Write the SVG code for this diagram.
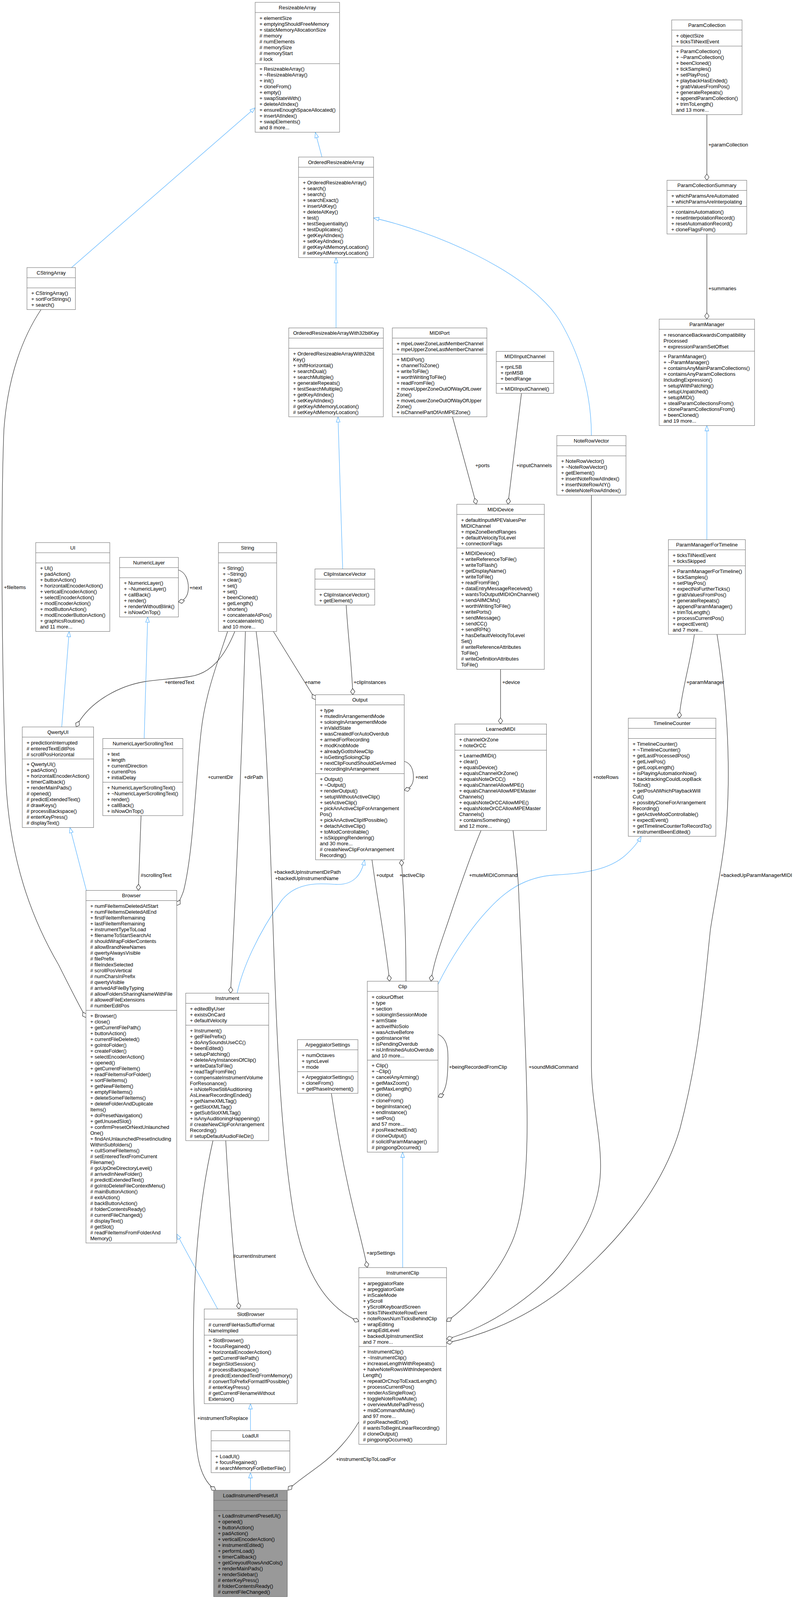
<svg xmlns="http://www.w3.org/2000/svg" width="2032" height="4198" viewBox="0 0 2032 4198">
<style>
.bx{fill:#fff;stroke:#666;stroke-width:1}
.gr{fill:#999;stroke:#666;stroke-width:1}
.sep{stroke:#666;stroke-width:1;fill:none}
text{font-family:"Liberation Sans",Arial,Helvetica,sans-serif;font-size:13px;fill:#000}
.ti{text-anchor:middle}
.inh{fill:none;stroke:#63b8ff;stroke-width:1.3;marker-end:url(#tri)}
.agg{fill:none;stroke:#404040;stroke-width:1.3;marker-end:url(#dia)}
</style>
<defs>
<marker id="tri" markerUnits="userSpaceOnUse" markerWidth="16" markerHeight="12" refX="13.5" refY="5" orient="auto" overflow="visible"><path d="M0,0.25 L13.5,5 L0,9.75 Z" fill="#fff" stroke="#63b8ff" stroke-width="1.3"/></marker>
<marker id="dia" markerUnits="userSpaceOnUse" markerWidth="18" markerHeight="12" refX="16" refY="5.5" orient="auto" overflow="visible"><path d="M0,5.5 L8,0 L16,5.5 L8,11 Z" fill="#fff" stroke="#404040" stroke-width="1.3"/></marker>
</defs>
<rect x="0" y="0" width="2032" height="4198" fill="#fff"/>

<g id="edges">
<path class="inh" d="M824,402 L807,339"/>
<path class="inh" d="M183,685 L653,276"/>
<path class="inh" d="M860,839.5 L860,659.5"/>
<path class="inh" d="M877,1456.5 L865,1067"/>
<path class="inh" d="M1513.5,1115 C1513.5,1000 1480,900 1432,820 C1350,690 1100,590 956,558"/>
<path class="inh" d="M1809,1381.5 L1809,1089.5"/>
<path class="inh" d="M158,1861 L177,1616.5"/>
<path class="inh" d="M369,1890.5 L378,1579.5"/>
<path class="inh" d="M221,2279.5 L179,2118.5"/>
<path class="inh" d="M607,2542.5 C620,2480 660,2390 720,2306 C760,2255 820,2262 860,2264 C905,2266 925,2240 933,2201"/>
<path class="inh" d="M1121,2520 C1150,2460 1200,2380 1253,2325 C1290,2285 1340,2245 1420,2240 C1500,2236 1560,2225 1600,2190 C1620,2172 1633,2156 1641,2141"/>
<path class="inh" d="M1030.5,3245 L1030.5,2949.5"/>
<path class="inh" d="M557,3351 L452.3,3159"/>
<path class="inh" d="M641,3662.5 L641,3593.5"/>
<path class="inh" d="M641,3815 L641,3770"/>

<path class="agg" d="M1809,293.5 L1809,461.5"/>
<path class="agg" d="M1809,599 L1809,817"/>
<path class="agg" d="M1158,1067 L1219,1291"/>
<path class="agg" d="M1334.5,1007 L1300,1291"/>
<path class="agg" d="M1281,1713.5 L1281,1853.5"/>
<path class="agg" d="M1777,1624 C1768,1690 1744,1770 1738,1838.5"/>
<path class="agg" d="M456.5,1459 C475,1465 482,1485 482,1504 C482,1523 475,1537 456.5,1541"/>
<path class="agg" d="M601,1616.5 C575,1680 540,1725 485,1732 C440,1738 400,1740 370,1745 C300,1757 225,1800 195,1861"/>
<path class="agg" d="M582.5,1616.5 C555,1700 525,1780 515,1870 C500,2000 495,2180 470,2280 C465,2295 460,2306 452.3,2318"/>
<path class="agg" d="M628,1616.5 C620,1900 605,2250 590,2542.5"/>
<path class="agg" d="M655.5,1616.5 C680,1800 690,2100 700,2410 C708,2650 718,2900 750,3100 C775,3250 830,3345 918.3,3383"/>
<path class="agg" d="M699.7,1616.5 L807.5,1791"/>
<path class="agg" d="M886,1549 C890,1620 900,1700 903,1778.5"/>
<path class="agg" d="M1034.5,1949 C1055,1955 1058,1975 1058,1990 C1058,2005 1052,2018 1034.5,2023"/>
<path class="agg" d="M952,2201 C965,2300 985,2400 997,2512"/>
<path class="agg" d="M1039,2512 C1039,2400 1035,2300 1027,2201"/>
<path class="agg" d="M1231,2126 C1200,2200 1170,2290 1150,2350 C1130,2410 1110,2460 1103,2512"/>
<path class="agg" d="M1313,2126 C1322,2200 1327,2250 1328,2300 C1335,2450 1345,2650 1348,2800 C1352,2950 1345,3100 1310,3180 C1275,3260 1210,3335 1142.7,3383"/>
<path class="agg" d="M1513.5,1267.5 L1513.5,2727 C1513.5,2820 1537,2900 1537,2986 C1537,3080 1500,3150 1440,3230 C1380,3310 1250,3400 1142.7,3428"/>
<path class="agg" d="M1835,1624 C1860,1780 1870,1950 1860,2100 C1852,2200 1830,2300 1818,2380 C1800,2550 1790,2700 1740,2890 C1690,3060 1560,3200 1440,3300 C1350,3370 1250,3415 1142.7,3438"/>
<path class="agg" d="M105,792.5 C60,860 20,960 10,1100 C2,1300 4,1700 15,2000 C25,2200 80,2350 150,2470 C180,2530 200,2570 220,2605"/>
<path class="agg" d="M361,2088 L354,2279.5"/>
<path class="agg" d="M577.7,2920 C585,3050 595,3200 611.7,3351"/>
<path class="agg" d="M545,2920 C515,3050 500,3200 496,3350 C493,3500 495,3650 505,3720 C512,3770 530,3800 552,3815"/>
<path class="agg" d="M848,2799 C870,2950 900,3080 918,3150 C928,3190 935,3220 940,3245"/>
<path class="agg" d="M1121,2648 C1150,2660 1147,2700 1146,2730 C1145,2770 1140,2800 1121,2808"/>
<path class="agg" d="M918.3,3640 C895,3680 860,3720 820,3750 C780,3780 750,3800 737,3815"/>

<text x="1813" y="374.5">+paramCollection</text>
<text x="1813" y="742.5">+summaries</text>
<text x="1216.5" y="1196">+ports</text>
<text x="1321.5" y="1196">+inputChannels</text>
<text x="1285.5" y="1750.5">+device</text>
<text x="1757" y="1751">+paramManager</text>
<text x="485" y="1508.5">+next</text>
<text x="421.5" y="1751">+enteredText</text>
<text x="532" y="1994">+currentDir</text>
<text x="624.5" y="1994">+dirPath</text>
<text x="701" y="2237">+backedUpInstrumentDirPath</text>
<text x="704" y="2252.5">+backedUpInstrumentName</text>
<text x="780" y="1751">+name</text>
<text x="905" y="1751">+clipInstances</text>
<text x="1063" y="1994">+next</text>
<text x="963" y="2245">+output</text>
<text x="1022.5" y="2245">+activeClip</text>
<text x="1200.5" y="2244.5">+muteMIDICommand</text>
<text x="1353" y="2735.5">+soundMidiCommand</text>
<text x="1517.5" y="1994">+noteRows</text>
<text x="1844" y="2244.5">+backedUpParamManagerMIDI</text>
<text x="10" y="1507.5">+fileItems</text>
<text x="360" y="2245">#scrollingText</text>
<text x="596.5" y="3219.5">#currentInstrument</text>
<text x="505" y="3634.5">+instrumentToReplace</text>
<text x="938" y="3212">+arpSettings</text>
<text x="1149" y="2736">+beingRecordedFromClip</text>
<text x="860" y="3740">+instrumentClipToLoadFor</text>
</g>

<g id="ResizeableArray">
<rect class="bx" x="653" y="6" width="216" height="332.5"/>
<path class="sep" d="M653,32H869M653,163H869"/>
<text class="ti" x="761" y="23.5">ResizeableArray</text>
<text x="664" y="50.5"><tspan>+ elementSize</tspan><tspan x="664" dy="15">+ emptyingShouldFreeMemory</tspan><tspan x="664" dy="15">+ staticMemoryAllocationSize</tspan><tspan x="664" dy="15"># memory</tspan><tspan x="664" dy="15"># numElements</tspan><tspan x="664" dy="15"># memorySize</tspan><tspan x="664" dy="15"># memoryStart</tspan><tspan x="664" dy="15"># lock</tspan></text>
<text x="664" y="181"><tspan>+ ResizeableArray()</tspan><tspan x="664" dy="15">+ ~ResizeableArray()</tspan><tspan x="664" dy="15">+ init()</tspan><tspan x="664" dy="15">+ cloneFrom()</tspan><tspan x="664" dy="15">+ empty()</tspan><tspan x="664" dy="15">+ swapStateWith()</tspan><tspan x="664" dy="15">+ deleteAtIndex()</tspan><tspan x="664" dy="15">+ ensureEnoughSpaceAllocated()</tspan><tspan x="664" dy="15">+ insertAtIndex()</tspan><tspan x="664" dy="15">+ swapElements()</tspan><tspan x="664" dy="15">and 8 more...</tspan></text>
</g>

<g id="OrderedResizeableArray">
<rect class="bx" x="764" y="402" width="192" height="257.5"/>
<path class="sep" d="M764,428H956M764,454H956"/>
<text class="ti" x="860" y="419.5">OrderedResizeableArray</text>
<text x="775" y="472"><tspan>+ OrderedResizeableArray()</tspan><tspan x="775" dy="15">+ search()</tspan><tspan x="775" dy="15">+ search()</tspan><tspan x="775" dy="15">+ searchExact()</tspan><tspan x="775" dy="15">+ insertAtKey()</tspan><tspan x="775" dy="15">+ deleteAtKey()</tspan><tspan x="775" dy="15">+ test()</tspan><tspan x="775" dy="15">+ testSequentiality()</tspan><tspan x="775" dy="15">+ testDuplicates()</tspan><tspan x="775" dy="15">+ getKeyAtIndex()</tspan><tspan x="775" dy="15">+ setKeyAtIndex()</tspan><tspan x="775" dy="15"># getKeyAtMemoryLocation()</tspan><tspan x="775" dy="15"># setKeyAtMemoryLocation()</tspan></text>
</g>

<g id="CStringArray">
<rect class="bx" x="69" y="685" width="124" height="107.5"/>
<path class="sep" d="M69,711H193M69,737H193"/>
<text class="ti" x="131" y="702.5">CStringArray</text>
<text x="80" y="755"><tspan>+ CStringArray()</tspan><tspan x="80" dy="15">+ sortForStrings()</tspan><tspan x="80" dy="15">+ search()</tspan></text>
</g>

<g id="ParamCollection">
<rect class="bx" x="1719" y="51" width="180" height="242.5"/>
<path class="sep" d="M1719,77H1899M1719,118H1899"/>
<text class="ti" x="1809" y="68.5">ParamCollection</text>
<text x="1730" y="95.5"><tspan>+ objectSize</tspan><tspan x="1730" dy="15">+ ticksTilNextEvent</tspan></text>
<text x="1730" y="136"><tspan>+ ParamCollection()</tspan><tspan x="1730" dy="15">+ ~ParamCollection()</tspan><tspan x="1730" dy="15">+ beenCloned()</tspan><tspan x="1730" dy="15">+ tickSamples()</tspan><tspan x="1730" dy="15">+ setPlayPos()</tspan><tspan x="1730" dy="15">+ playbackHasEnded()</tspan><tspan x="1730" dy="15">+ grabValuesFromPos()</tspan><tspan x="1730" dy="15">+ generateRepeats()</tspan><tspan x="1730" dy="15">+ appendParamCollection()</tspan><tspan x="1730" dy="15">+ trimToLength()</tspan><tspan x="1730" dy="15">and 13 more...</tspan></text>
</g>

<g id="ParamCollectionSummary">
<rect class="bx" x="1707" y="461.5" width="204" height="137.5"/>
<path class="sep" d="M1707,487.5H1911M1707,528.5H1911"/>
<text class="ti" x="1809" y="479">ParamCollectionSummary</text>
<text x="1718" y="506"><tspan>+ whichParamsAreAutomated</tspan><tspan x="1718" dy="15">+ whichParamsAreInterpolating</tspan></text>
<text x="1718" y="546.5"><tspan>+ containsAutomation()</tspan><tspan x="1718" dy="15">+ resetInterpolationRecord()</tspan><tspan x="1718" dy="15">+ resetAutomationRecord()</tspan><tspan x="1718" dy="15">+ cloneFlagsFrom()</tspan></text>
</g>

<g id="ParamManager">
<rect class="bx" x="1687" y="817" width="244" height="272.5"/>
<path class="sep" d="M1687,843H1931M1687,899H1931"/>
<text class="ti" x="1809" y="834.5">ParamManager</text>
<text x="1698" y="861.5"><tspan>+ resonanceBackwardsCompatibility</tspan><tspan x="1698" dy="15">Processed</tspan><tspan x="1698" dy="15">+ expressionParamSetOffset</tspan></text>
<text x="1698" y="917"><tspan>+ ParamManager()</tspan><tspan x="1698" dy="15">+ ~ParamManager()</tspan><tspan x="1698" dy="15">+ containsAnyMainParamCollections()</tspan><tspan x="1698" dy="15">+ containsAnyParamCollections</tspan><tspan x="1698" dy="15">IncludingExpression()</tspan><tspan x="1698" dy="15">+ setupWithPatching()</tspan><tspan x="1698" dy="15">+ setupUnpatched()</tspan><tspan x="1698" dy="15">+ setupMIDI()</tspan><tspan x="1698" dy="15">+ stealParamCollectionsFrom()</tspan><tspan x="1698" dy="15">+ cloneParamCollectionsFrom()</tspan><tspan x="1698" dy="15">+ beenCloned()</tspan><tspan x="1698" dy="15">and 19 more...</tspan></text>
</g>

<g id="OrderedResizeableArrayWith32bitKey">
<rect class="bx" x="739" y="839.5" width="242" height="227.5"/>
<path class="sep" d="M739,865.5H981M739,891.5H981"/>
<text class="ti" x="860" y="857">OrderedResizeableArrayWith32bitKey</text>
<text x="750" y="909.5"><tspan>+ OrderedResizeableArrayWith32bit</tspan><tspan x="750" dy="15">Key()</tspan><tspan x="750" dy="15">+ shiftHorizontal()</tspan><tspan x="750" dy="15">+ searchDual()</tspan><tspan x="750" dy="15">+ searchMultiple()</tspan><tspan x="750" dy="15">+ generateRepeats()</tspan><tspan x="750" dy="15">+ testSearchMultiple()</tspan><tspan x="750" dy="15">+ getKeyAtIndex()</tspan><tspan x="750" dy="15">+ setKeyAtIndex()</tspan><tspan x="750" dy="15"># getKeyAtMemoryLocation()</tspan><tspan x="750" dy="15"># setKeyAtMemoryLocation()</tspan></text>
</g>

<g id="MIDIPort">
<rect class="bx" x="1004" y="839.5" width="242" height="227.5"/>
<path class="sep" d="M1004,865.5H1246M1004,906.5H1246"/>
<text class="ti" x="1125" y="857">MIDIPort</text>
<text x="1015" y="884"><tspan>+ mpeLowerZoneLastMemberChannel</tspan><tspan x="1015" dy="15">+ mpeUpperZoneLastMemberChannel</tspan></text>
<text x="1015" y="924.5"><tspan>+ MIDIPort()</tspan><tspan x="1015" dy="15">+ channelToZone()</tspan><tspan x="1015" dy="15">+ writeToFile()</tspan><tspan x="1015" dy="15">+ worthWritingToFile()</tspan><tspan x="1015" dy="15">+ readFromFile()</tspan><tspan x="1015" dy="15">+ moveUpperZoneOutOfWayOfLower</tspan><tspan x="1015" dy="15">Zone()</tspan><tspan x="1015" dy="15">+ moveLowerZoneOutOfWayOfUpper</tspan><tspan x="1015" dy="15">Zone()</tspan><tspan x="1015" dy="15">+ isChannelPartOfAnMPEZone()</tspan></text>
</g>

<g id="MIDIInputChannel">
<rect class="bx" x="1270" y="899.5" width="147" height="107.5"/>
<path class="sep" d="M1270,925.5H1417M1270,981.5H1417"/>
<text class="ti" x="1343.5" y="917">MIDIInputChannel</text>
<text x="1281" y="944"><tspan>+ rpnLSB</tspan><tspan x="1281" dy="15">+ rpnMSB</tspan><tspan x="1281" dy="15">+ bendRange</tspan></text>
<text x="1281" y="999.5">+ MIDIInputChannel()</text>
</g>

<g id="NoteRowVector">
<rect class="bx" x="1425" y="1115" width="177" height="152.5"/>
<path class="sep" d="M1425,1141H1602M1425,1167H1602"/>
<text class="ti" x="1513.5" y="1132.5">NoteRowVector</text>
<text x="1436" y="1185"><tspan>+ NoteRowVector()</tspan><tspan x="1436" dy="15">+ ~NoteRowVector()</tspan><tspan x="1436" dy="15">+ getElement()</tspan><tspan x="1436" dy="15">+ insertNoteRowAtIndex()</tspan><tspan x="1436" dy="15">+ insertNoteRowAtY()</tspan><tspan x="1436" dy="15">+ deleteNoteRowAtIndex()</tspan></text>
</g>

<g id="MIDIDevice">
<rect class="bx" x="1169" y="1291" width="224" height="422.5"/>
<path class="sep" d="M1169,1317H1393M1169,1403H1393"/>
<text class="ti" x="1281" y="1308.5">MIDIDevice</text>
<text x="1180" y="1335.5"><tspan>+ defaultInputMPEValuesPer</tspan><tspan x="1180" dy="15">MIDIChannel</tspan><tspan x="1180" dy="15">+ mpeZoneBendRanges</tspan><tspan x="1180" dy="15">+ defaultVelocityToLevel</tspan><tspan x="1180" dy="15">+ connectionFlags</tspan></text>
<text x="1180" y="1421"><tspan>+ MIDIDevice()</tspan><tspan x="1180" dy="15">+ writeReferenceToFile()</tspan><tspan x="1180" dy="15">+ writeToFlash()</tspan><tspan x="1180" dy="15">+ getDisplayName()</tspan><tspan x="1180" dy="15">+ writeToFile()</tspan><tspan x="1180" dy="15">+ readFromFile()</tspan><tspan x="1180" dy="15">+ dataEntryMessageReceived()</tspan><tspan x="1180" dy="15">+ wantsToOutputMIDIOnChannel()</tspan><tspan x="1180" dy="15">+ sendAllMCMs()</tspan><tspan x="1180" dy="15">+ worthWritingToFile()</tspan><tspan x="1180" dy="15">+ writePorts()</tspan><tspan x="1180" dy="15">+ sendMessage()</tspan><tspan x="1180" dy="15">+ sendCC()</tspan><tspan x="1180" dy="15">+ sendRPN()</tspan><tspan x="1180" dy="15">+ hasDefaultVelocityToLevel</tspan><tspan x="1180" dy="15">Set()</tspan><tspan x="1180" dy="15"># writeReferenceAttributes</tspan><tspan x="1180" dy="15">ToFile()</tspan><tspan x="1180" dy="15"># writeDefinitionAttributes</tspan><tspan x="1180" dy="15">ToFile()</tspan></text>
</g>

<g id="UI">
<rect class="bx" x="91.5" y="1389" width="189.5" height="227.5"/>
<path class="sep" d="M91.5,1415H281M91.5,1441H281"/>
<text class="ti" x="186.25" y="1406.5">UI</text>
<text x="102.5" y="1459"><tspan>+ UI()</tspan><tspan x="102.5" dy="15">+ padAction()</tspan><tspan x="102.5" dy="15">+ buttonAction()</tspan><tspan x="102.5" dy="15">+ horizontalEncoderAction()</tspan><tspan x="102.5" dy="15">+ verticalEncoderAction()</tspan><tspan x="102.5" dy="15">+ selectEncoderAction()</tspan><tspan x="102.5" dy="15">+ modEncoderAction()</tspan><tspan x="102.5" dy="15">+ modButtonAction()</tspan><tspan x="102.5" dy="15">+ modEncoderButtonAction()</tspan><tspan x="102.5" dy="15">+ graphicsRoutine()</tspan><tspan x="102.5" dy="15">and 11 more...</tspan></text>
</g>

<g id="NumericLayer">
<rect class="bx" x="306" y="1427" width="150.5" height="152.5"/>
<path class="sep" d="M306,1453H456.5M306,1479H456.5"/>
<text class="ti" x="381.25" y="1444.5">NumericLayer</text>
<text x="317" y="1497"><tspan>+ NumericLayer()</tspan><tspan x="317" dy="15">+ ~NumericLayer()</tspan><tspan x="317" dy="15">+ callBack()</tspan><tspan x="317" dy="15">+ render()</tspan><tspan x="317" dy="15">+ renderWithoutBlink()</tspan><tspan x="317" dy="15">+ isNowOnTop()</tspan></text>
</g>

<g id="String">
<rect class="bx" x="559" y="1389" width="149" height="227.5"/>
<path class="sep" d="M559,1415H708M559,1441H708"/>
<text class="ti" x="633.5" y="1406.5">String</text>
<text x="570" y="1459"><tspan>+ String()</tspan><tspan x="570" dy="15">+ ~String()</tspan><tspan x="570" dy="15">+ clear()</tspan><tspan x="570" dy="15">+ set()</tspan><tspan x="570" dy="15">+ set()</tspan><tspan x="570" dy="15">+ beenCloned()</tspan><tspan x="570" dy="15">+ getLength()</tspan><tspan x="570" dy="15">+ shorten()</tspan><tspan x="570" dy="15">+ concatenateAtPos()</tspan><tspan x="570" dy="15">+ concatenateInt()</tspan><tspan x="570" dy="15">and 10 more...</tspan></text>
</g>

<g id="ClipInstanceVector">
<rect class="bx" x="806" y="1456.5" width="153" height="92.5"/>
<path class="sep" d="M806,1482.5H959M806,1508.5H959"/>
<text class="ti" x="882.5" y="1474">ClipInstanceVector</text>
<text x="817" y="1526.5"><tspan>+ ClipInstanceVector()</tspan><tspan x="817" dy="15">+ getElement()</tspan></text>
</g>

<g id="ParamManagerForTimeline">
<rect class="bx" x="1710.5" y="1381.5" width="197" height="242.5"/>
<path class="sep" d="M1710.5,1407.5H1907.5M1710.5,1448.5H1907.5"/>
<text class="ti" x="1809" y="1399">ParamManagerForTimeline</text>
<text x="1721.5" y="1426"><tspan>+ ticksTilNextEvent</tspan><tspan x="1721.5" dy="15">+ ticksSkipped</tspan></text>
<text x="1721.5" y="1466.5"><tspan>+ ParamManagerForTimeline()</tspan><tspan x="1721.5" dy="15">+ tickSamples()</tspan><tspan x="1721.5" dy="15">+ setPlayPos()</tspan><tspan x="1721.5" dy="15">+ expectNoFurtherTicks()</tspan><tspan x="1721.5" dy="15">+ grabValuesFromPos()</tspan><tspan x="1721.5" dy="15">+ generateRepeats()</tspan><tspan x="1721.5" dy="15">+ appendParamManager()</tspan><tspan x="1721.5" dy="15">+ trimToLength()</tspan><tspan x="1721.5" dy="15">+ processCurrentPos()</tspan><tspan x="1721.5" dy="15">+ expectEvent()</tspan><tspan x="1721.5" dy="15">and 7 more...</tspan></text>
</g>

<g id="QwertyUI">
<rect class="bx" x="57" y="1861" width="182.5" height="257.5"/>
<path class="sep" d="M57,1887H239.5M57,1943H239.5"/>
<text class="ti" x="148.25" y="1878.5">QwertyUI</text>
<text x="68" y="1905.5"><tspan>+ predictionInterrupted</tspan><tspan x="68" dy="15"># enteredTextEditPos</tspan><tspan x="68" dy="15"># scrollPosHorizontal</tspan></text>
<text x="68" y="1961"><tspan>+ QwertyUI()</tspan><tspan x="68" dy="15">+ padAction()</tspan><tspan x="68" dy="15">+ horizontalEncoderAction()</tspan><tspan x="68" dy="15">+ timerCallback()</tspan><tspan x="68" dy="15">+ renderMainPads()</tspan><tspan x="68" dy="15"># opened()</tspan><tspan x="68" dy="15"># predictExtendedText()</tspan><tspan x="68" dy="15"># drawKeys()</tspan><tspan x="68" dy="15"># processBackspace()</tspan><tspan x="68" dy="15"># enterKeyPress()</tspan><tspan x="68" dy="15"># displayText()</tspan></text>
</g>

<g id="NumericLayerScrollingText">
<rect class="bx" x="263" y="1890.5" width="205" height="197.5"/>
<path class="sep" d="M263,1916.5H468M263,2002.5H468"/>
<text class="ti" x="365.5" y="1908">NumericLayerScrollingText</text>
<text x="274" y="1935"><tspan>+ text</tspan><tspan x="274" dy="15">+ length</tspan><tspan x="274" dy="15">+ currentDirection</tspan><tspan x="274" dy="15">+ currentPos</tspan><tspan x="274" dy="15">+ initialDelay</tspan></text>
<text x="274" y="2020.5"><tspan>+ NumericLayerScrollingText()</tspan><tspan x="274" dy="15">+ ~NumericLayerScrollingText()</tspan><tspan x="274" dy="15">+ render()</tspan><tspan x="274" dy="15">+ callBack()</tspan><tspan x="274" dy="15">+ isNowOnTop()</tspan></text>
</g>

<g id="Output">
<rect class="bx" x="807.5" y="1778.5" width="227" height="422.5"/>
<path class="sep" d="M807.5,1804.5H1034.5M807.5,1980.5H1034.5"/>
<text class="ti" x="921" y="1796">Output</text>
<text x="818.5" y="1823"><tspan>+ type</tspan><tspan x="818.5" dy="15">+ mutedInArrangementMode</tspan><tspan x="818.5" dy="15">+ soloingInArrangementMode</tspan><tspan x="818.5" dy="15">+ inValidState</tspan><tspan x="818.5" dy="15">+ wasCreatedForAutoOverdub</tspan><tspan x="818.5" dy="15">+ armedForRecording</tspan><tspan x="818.5" dy="15">+ modKnobMode</tspan><tspan x="818.5" dy="15">+ alreadyGotItsNewClip</tspan><tspan x="818.5" dy="15">+ isGettingSoloingClip</tspan><tspan x="818.5" dy="15">+ nextClipFoundShouldGetArmed</tspan><tspan x="818.5" dy="15">+ recordingInArrangement</tspan></text>
<text x="818.5" y="1998.5"><tspan>+ Output()</tspan><tspan x="818.5" dy="15">+ ~Output()</tspan><tspan x="818.5" dy="15">+ renderOutput()</tspan><tspan x="818.5" dy="15">+ setupWithoutActiveClip()</tspan><tspan x="818.5" dy="15">+ setActiveClip()</tspan><tspan x="818.5" dy="15">+ pickAnActiveClipForArrangement</tspan><tspan x="818.5" dy="15">Pos()</tspan><tspan x="818.5" dy="15">+ pickAnActiveClipIfPossible()</tspan><tspan x="818.5" dy="15">+ detachActiveClip()</tspan><tspan x="818.5" dy="15">+ toModControllable()</tspan><tspan x="818.5" dy="15">+ isSkippingRendering()</tspan><tspan x="818.5" dy="15">and 30 more...</tspan><tspan x="818.5" dy="15"># createNewClipForArrangement</tspan><tspan x="818.5" dy="15">Recording()</tspan></text>
</g>

<g id="LearnedMIDI">
<rect class="bx" x="1164" y="1853.5" width="234.5" height="272.5"/>
<path class="sep" d="M1164,1879.5H1398.5M1164,1920.5H1398.5"/>
<text class="ti" x="1281.25" y="1871">LearnedMIDI</text>
<text x="1175" y="1898"><tspan>+ channelOrZone</tspan><tspan x="1175" dy="15">+ noteOrCC</tspan></text>
<text x="1175" y="1938.5"><tspan>+ LearnedMIDI()</tspan><tspan x="1175" dy="15">+ clear()</tspan><tspan x="1175" dy="15">+ equalsDevice()</tspan><tspan x="1175" dy="15">+ equalsChannelOrZone()</tspan><tspan x="1175" dy="15">+ equalsNoteOrCC()</tspan><tspan x="1175" dy="15">+ equalsChannelAllowMPE()</tspan><tspan x="1175" dy="15">+ equalsChannelAllowMPEMaster</tspan><tspan x="1175" dy="15">Channels()</tspan><tspan x="1175" dy="15">+ equalsNoteOrCCAllowMPE()</tspan><tspan x="1175" dy="15">+ equalsNoteOrCCAllowMPEMaster</tspan><tspan x="1175" dy="15">Channels()</tspan><tspan x="1175" dy="15">+ containsSomething()</tspan><tspan x="1175" dy="15">and 12 more...</tspan></text>
</g>

<g id="TimelineCounter">
<rect class="bx" x="1608" y="1838.5" width="224" height="302.5"/>
<path class="sep" d="M1608,1864.5H1832M1608,1890.5H1832"/>
<text class="ti" x="1720" y="1856">TimelineCounter</text>
<text x="1619" y="1908.5"><tspan>+ TimelineCounter()</tspan><tspan x="1619" dy="15">+ ~TimelineCounter()</tspan><tspan x="1619" dy="15">+ getLastProcessedPos()</tspan><tspan x="1619" dy="15">+ getLivePos()</tspan><tspan x="1619" dy="15">+ getLoopLength()</tspan><tspan x="1619" dy="15">+ isPlayingAutomationNow()</tspan><tspan x="1619" dy="15">+ backtrackingCouldLoopBack</tspan><tspan x="1619" dy="15">ToEnd()</tspan><tspan x="1619" dy="15">+ getPosAtWhichPlaybackWill</tspan><tspan x="1619" dy="15">Cut()</tspan><tspan x="1619" dy="15">+ possiblyCloneForArrangement</tspan><tspan x="1619" dy="15">Recording()</tspan><tspan x="1619" dy="15">+ getActiveModControllable()</tspan><tspan x="1619" dy="15">+ expectEvent()</tspan><tspan x="1619" dy="15">+ getTimelineCounterToRecordTo()</tspan><tspan x="1619" dy="15">+ instrumentBeenEdited()</tspan></text>
</g>

<g id="Browser">
<rect class="bx" x="220" y="2279.5" width="232.3" height="902.5"/>
<path class="sep" d="M220,2305.5H452.3M220,2586.5H452.3"/>
<text class="ti" x="336.15" y="2297">Browser</text>
<text x="231" y="2324"><tspan>+ numFileItemsDeletedAtStart</tspan><tspan x="231" dy="15">+ numFileItemsDeletedAtEnd</tspan><tspan x="231" dy="15">+ firstFileItemRemaining</tspan><tspan x="231" dy="15">+ lastFileItemRemaining</tspan><tspan x="231" dy="15">+ instrumentTypeToLoad</tspan><tspan x="231" dy="15">+ filenameToStartSearchAt</tspan><tspan x="231" dy="15"># shouldWrapFolderContents</tspan><tspan x="231" dy="15"># allowBrandNewNames</tspan><tspan x="231" dy="15"># qwertyAlwaysVisible</tspan><tspan x="231" dy="15"># filePrefix</tspan><tspan x="231" dy="15"># fileIndexSelected</tspan><tspan x="231" dy="15"># scrollPosVertical</tspan><tspan x="231" dy="15"># numCharsInPrefix</tspan><tspan x="231" dy="15"># qwertyVisible</tspan><tspan x="231" dy="15"># arrivedAtFileByTyping</tspan><tspan x="231" dy="15"># allowFoldersSharingNameWithFile</tspan><tspan x="231" dy="15"># allowedFileExtensions</tspan><tspan x="231" dy="15"># numberEditPos</tspan></text>
<text x="231" y="2604.5"><tspan>+ Browser()</tspan><tspan x="231" dy="15">+ close()</tspan><tspan x="231" dy="15">+ getCurrentFilePath()</tspan><tspan x="231" dy="15">+ buttonAction()</tspan><tspan x="231" dy="15">+ currentFileDeleted()</tspan><tspan x="231" dy="15">+ goIntoFolder()</tspan><tspan x="231" dy="15">+ createFolder()</tspan><tspan x="231" dy="15">+ selectEncoderAction()</tspan><tspan x="231" dy="15">+ opened()</tspan><tspan x="231" dy="15">+ getCurrentFileItem()</tspan><tspan x="231" dy="15">+ readFileItemsForFolder()</tspan><tspan x="231" dy="15">+ sortFileItems()</tspan><tspan x="231" dy="15">+ getNewFileItem()</tspan><tspan x="231" dy="15">+ emptyFileItems()</tspan><tspan x="231" dy="15">+ deleteSomeFileItems()</tspan><tspan x="231" dy="15">+ deleteFolderAndDuplicate</tspan><tspan x="231" dy="15">Items()</tspan><tspan x="231" dy="15">+ doPresetNavigation()</tspan><tspan x="231" dy="15">+ getUnusedSlot()</tspan><tspan x="231" dy="15">+ confirmPresetOrNextUnlaunched</tspan><tspan x="231" dy="15">One()</tspan><tspan x="231" dy="15">+ findAnUnlaunchedPresetIncluding</tspan><tspan x="231" dy="15">WithinSubfolders()</tspan><tspan x="231" dy="15">+ cullSomeFileItems()</tspan><tspan x="231" dy="15"># setEnteredTextFromCurrent</tspan><tspan x="231" dy="15">Filename()</tspan><tspan x="231" dy="15"># goUpOneDirectoryLevel()</tspan><tspan x="231" dy="15"># arrivedInNewFolder()</tspan><tspan x="231" dy="15"># predictExtendedText()</tspan><tspan x="231" dy="15"># goIntoDeleteFileContextMenu()</tspan><tspan x="231" dy="15"># mainButtonAction()</tspan><tspan x="231" dy="15"># exitAction()</tspan><tspan x="231" dy="15"># backButtonAction()</tspan><tspan x="231" dy="15"># folderContentsReady()</tspan><tspan x="231" dy="15"># currentFileChanged()</tspan><tspan x="231" dy="15"># displayText()</tspan><tspan x="231" dy="15"># getSlot()</tspan><tspan x="231" dy="15"># readFileItemsFromFolderAnd</tspan><tspan x="231" dy="15">Memory()</tspan></text>
</g>

<g id="Instrument">
<rect class="bx" x="475.3" y="2542.5" width="212.4" height="377.5"/>
<path class="sep" d="M475.3,2568.5H687.7M475.3,2624.5H687.7"/>
<text class="ti" x="581.5" y="2560">Instrument</text>
<text x="486" y="2587"><tspan>+ editedByUser</tspan><tspan x="486" dy="15">+ existsOnCard</tspan><tspan x="486" dy="15">+ defaultVelocity</tspan></text>
<text x="486" y="2642.5"><tspan>+ Instrument()</tspan><tspan x="486" dy="15">+ getFilePrefix()</tspan><tspan x="486" dy="15">+ doAnySoundsUseCC()</tspan><tspan x="486" dy="15">+ beenEdited()</tspan><tspan x="486" dy="15">+ setupPatching()</tspan><tspan x="486" dy="15">+ deleteAnyInstancesOfClip()</tspan><tspan x="486" dy="15">+ writeDataToFile()</tspan><tspan x="486" dy="15">+ readTagFromFile()</tspan><tspan x="486" dy="15">+ compensateInstrumentVolume</tspan><tspan x="486" dy="15">ForResonance()</tspan><tspan x="486" dy="15">+ isNoteRowStillAuditioning</tspan><tspan x="486" dy="15">AsLinearRecordingEnded()</tspan><tspan x="486" dy="15">+ getNameXMLTag()</tspan><tspan x="486" dy="15">+ getSlotXMLTag()</tspan><tspan x="486" dy="15">+ getSubSlotXMLTag()</tspan><tspan x="486" dy="15">+ isAnyAuditioningHappening()</tspan><tspan x="486" dy="15"># createNewClipForArrangement</tspan><tspan x="486" dy="15">Recording()</tspan><tspan x="486" dy="15"># setupDefaultAudioFileDir()</tspan></text>
</g>

<g id="Clip">
<rect class="bx" x="940" y="2512" width="181" height="437.5"/>
<path class="sep" d="M940,2538H1121M940,2714H1121"/>
<text class="ti" x="1030.5" y="2529.5">Clip</text>
<text x="951" y="2556.5"><tspan>+ colourOffset</tspan><tspan x="951" dy="15">+ type</tspan><tspan x="951" dy="15">+ section</tspan><tspan x="951" dy="15">+ soloingInSessionMode</tspan><tspan x="951" dy="15">+ armState</tspan><tspan x="951" dy="15">+ activeIfNoSolo</tspan><tspan x="951" dy="15">+ wasActiveBefore</tspan><tspan x="951" dy="15">+ gotInstanceYet</tspan><tspan x="951" dy="15">+ isPendingOverdub</tspan><tspan x="951" dy="15">+ isUnfinishedAutoOverdub</tspan><tspan x="951" dy="15">and 10 more...</tspan></text>
<text x="951" y="2732"><tspan>+ Clip()</tspan><tspan x="951" dy="15">+ ~Clip()</tspan><tspan x="951" dy="15">+ cancelAnyArming()</tspan><tspan x="951" dy="15">+ getMaxZoom()</tspan><tspan x="951" dy="15">+ getMaxLength()</tspan><tspan x="951" dy="15">+ clone()</tspan><tspan x="951" dy="15">+ cloneFrom()</tspan><tspan x="951" dy="15">+ beginInstance()</tspan><tspan x="951" dy="15">+ endInstance()</tspan><tspan x="951" dy="15">+ setPos()</tspan><tspan x="951" dy="15">and 57 more...</tspan><tspan x="951" dy="15"># posReachedEnd()</tspan><tspan x="951" dy="15"># cloneOutput()</tspan><tspan x="951" dy="15"># solicitParamManager()</tspan><tspan x="951" dy="15"># pingpongOccurred()</tspan></text>
</g>

<g id="ArpeggiatorSettings">
<rect class="bx" x="761.3" y="2661.5" width="154.7" height="137.5"/>
<path class="sep" d="M761.3,2687.5H916M761.3,2743.5H916"/>
<text class="ti" x="838.6" y="2679">ArpeggiatorSettings</text>
<text x="772" y="2706"><tspan>+ numOctaves</tspan><tspan x="772" dy="15">+ syncLevel</tspan><tspan x="772" dy="15">+ mode</tspan></text>
<text x="772" y="2761.5"><tspan>+ ArpeggiatorSettings()</tspan><tspan x="772" dy="15">+ cloneFrom()</tspan><tspan x="772" dy="15">+ getPhaseIncrement()</tspan></text>
</g>

<g id="InstrumentClip">
<rect class="bx" x="918.3" y="3245" width="224.4" height="452.5"/>
<path class="sep" d="M918.3,3271H1142.7M918.3,3447H1142.7"/>
<text class="ti" x="1030.5" y="3262.5">InstrumentClip</text>
<text x="929" y="3289.5"><tspan>+ arpeggiatorRate</tspan><tspan x="929" dy="15">+ arpeggiatorGate</tspan><tspan x="929" dy="15">+ inScaleMode</tspan><tspan x="929" dy="15">+ yScroll</tspan><tspan x="929" dy="15">+ yScrollKeyboardScreen</tspan><tspan x="929" dy="15">+ ticksTilNextNoteRowEvent</tspan><tspan x="929" dy="15">+ noteRowsNumTicksBehindClip</tspan><tspan x="929" dy="15">+ wrapEditing</tspan><tspan x="929" dy="15">+ wrapEditLevel</tspan><tspan x="929" dy="15">+ backedUpInstrumentSlot</tspan><tspan x="929" dy="15">and 7 more...</tspan></text>
<text x="929" y="3465"><tspan>+ InstrumentClip()</tspan><tspan x="929" dy="15">+ ~InstrumentClip()</tspan><tspan x="929" dy="15">+ increaseLengthWithRepeats()</tspan><tspan x="929" dy="15">+ halveNoteRowsWithIndependent</tspan><tspan x="929" dy="15">Length()</tspan><tspan x="929" dy="15">+ repeatOrChopToExactLength()</tspan><tspan x="929" dy="15">+ processCurrentPos()</tspan><tspan x="929" dy="15">+ renderAsSingleRow()</tspan><tspan x="929" dy="15">+ toggleNoteRowMute()</tspan><tspan x="929" dy="15">+ overviewMutePadPress()</tspan><tspan x="929" dy="15">+ midiCommandMute()</tspan><tspan x="929" dy="15">and 97 more...</tspan><tspan x="929" dy="15"># posReachedEnd()</tspan><tspan x="929" dy="15"># wantsToBeginLinearRecording()</tspan><tspan x="929" dy="15"># cloneOutput()</tspan><tspan x="929" dy="15"># pingpongOccurred()</tspan></text>
</g>

<g id="SlotBrowser">
<rect class="bx" x="522.7" y="3351" width="238" height="242.5"/>
<path class="sep" d="M522.7,3377H760.7M522.7,3418H760.7"/>
<text class="ti" x="641.7" y="3368.5">SlotBrowser</text>
<text x="533.5" y="3395.5"><tspan># currentFileHasSuffixFormat</tspan><tspan x="533.5" dy="15">NameImplied</tspan></text>
<text x="533.5" y="3436"><tspan>+ SlotBrowser()</tspan><tspan x="533.5" dy="15">+ focusRegained()</tspan><tspan x="533.5" dy="15">+ horizontalEncoderAction()</tspan><tspan x="533.5" dy="15">+ getCurrentFilePath()</tspan><tspan x="533.5" dy="15"># beginSlotSession()</tspan><tspan x="533.5" dy="15"># processBackspace()</tspan><tspan x="533.5" dy="15"># predictExtendedTextFromMemory()</tspan><tspan x="533.5" dy="15"># convertToPrefixFormatIfPossible()</tspan><tspan x="533.5" dy="15"># enterKeyPress()</tspan><tspan x="533.5" dy="15"># getCurrentFilenameWithout</tspan><tspan x="533.5" dy="15">Extension()</tspan></text>
</g>

<g id="LoadUI">
<rect class="bx" x="540.3" y="3662.5" width="201.4" height="107.5"/>
<path class="sep" d="M540.3,3688.5H741.7M540.3,3714.5H741.7"/>
<text class="ti" x="641" y="3680">LoadUI</text>
<text x="551" y="3732.5"><tspan>+ LoadUI()</tspan><tspan x="551" dy="15">+ focusRegained()</tspan><tspan x="551" dy="15"># searchMemoryForBetterFile()</tspan></text>
</g>

<g id="LoadInstrumentPresetUI">
<rect class="gr" x="546.7" y="3815" width="188.6" height="272.5"/>
<path class="sep" d="M546.7,3841H735.3M546.7,3867H735.3"/>
<text class="ti" x="641" y="3832.5">LoadInstrumentPresetUI</text>
<text x="557.5" y="3885"><tspan>+ LoadInstrumentPresetUI()</tspan><tspan x="557.5" dy="15">+ opened()</tspan><tspan x="557.5" dy="15">+ buttonAction()</tspan><tspan x="557.5" dy="15">+ padAction()</tspan><tspan x="557.5" dy="15">+ verticalEncoderAction()</tspan><tspan x="557.5" dy="15">+ instrumentEdited()</tspan><tspan x="557.5" dy="15">+ performLoad()</tspan><tspan x="557.5" dy="15">+ timerCallback()</tspan><tspan x="557.5" dy="15">+ getGreyoutRowsAndCols()</tspan><tspan x="557.5" dy="15">+ renderMainPads()</tspan><tspan x="557.5" dy="15">+ renderSidebar()</tspan><tspan x="557.5" dy="15"># enterKeyPress()</tspan><tspan x="557.5" dy="15"># folderContentsReady()</tspan><tspan x="557.5" dy="15"># currentFileChanged()</tspan></text>
</g>
</svg>
